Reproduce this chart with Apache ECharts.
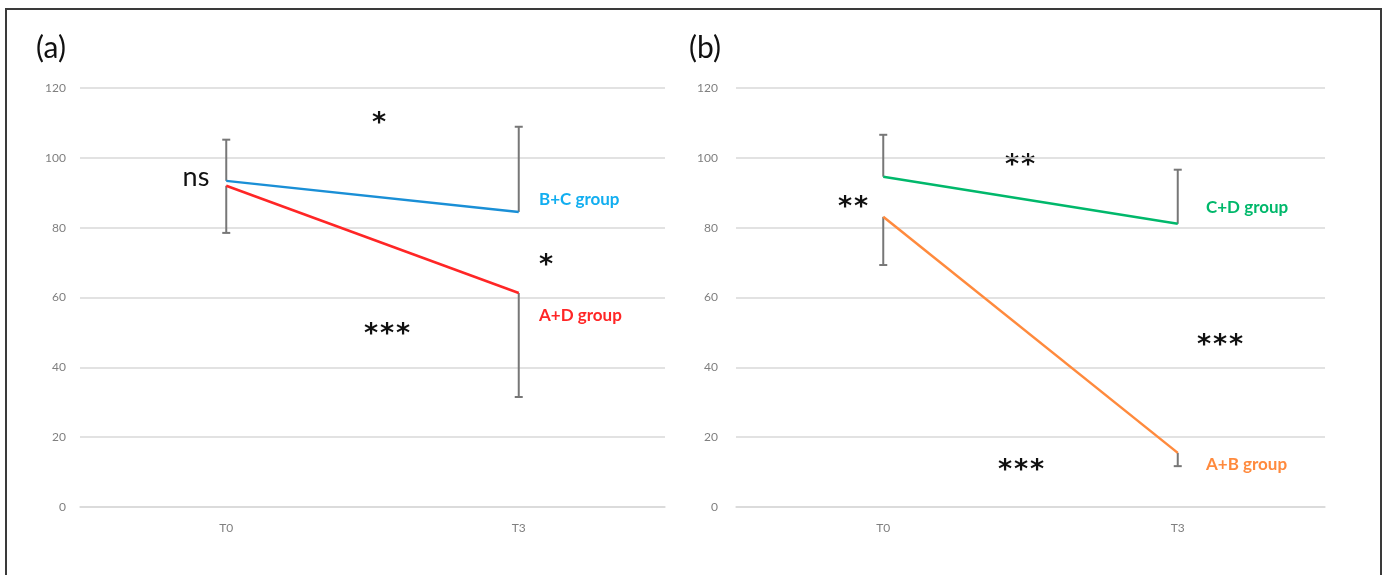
<!DOCTYPE html>
<html>
<head>
<meta charset="utf-8">
<script src="https://cdn.jsdelivr.net/npm/echarts@6/dist/echarts.min.js"></script>
<style>
html,body{margin:0;padding:0;background:#fff;}
#chart{width:1387px;height:575px;}
</style>
</head>
<body>
<div id="chart"></div>
<script>
// ---- data ----
const categories = ['T0', 'T3'];
const yTicks = [0, 20, 40, 60, 80, 100, 120];
// panel (a)
const bcMean = [93.4, 84.5];
const bcUpper = [105.2, 108.9];   // one-sided error bar ends (upwards)
const adMean = [92.0, 61.3];
const adLower = [78.5, 31.5];     // one-sided error bar ends (downwards)
// panel (b)
const cdMean = [94.6, 81.1];
const cdUpper = [106.6, 96.6];
const abMean = [83.1, 15.5];
const abLower = [69.3, 11.7];

const chart = echarts.init(document.getElementById('chart'), null, {renderer: 'canvas'});

const FONT = 'Lato';
const gridColor = '#d9d9d9';
const labelColor = '#7f7f7f';

function errData(mean, end) {
  return mean.map((m, i) => [i, m, end[i]]);
}

function errSeries(idx, mean, end) {
  return {
    type: 'custom',
    xAxisIndex: idx, yAxisIndex: idx,
    data: errData(mean, end),
    z: 1,
    renderItem: function (params, api) {
      const x = api.value(0);
      const p0 = api.coord([x, api.value(1)]);
      const p1 = api.coord([x, api.value(2)]);
      const cw = 4;
      const style = {stroke: '#777777', lineWidth: 2};
      return {
        type: 'group',
        children: [
          {type: 'line', shape: {x1: p0[0], y1: p0[1], x2: p1[0], y2: p1[1]}, style: style},
          {type: 'line', shape: {x1: p1[0] - cw, y1: p1[1], x2: p1[0] + cw, y2: p1[1]}, style: style}
        ]
      };
    }
  };
}

function lineSeries(idx, name, data, color) {
  return {
    type: 'line', name: name,
    xAxisIndex: idx, yAxisIndex: idx,
    data: data, symbol: 'none', z: 3,
    lineStyle: {color: color, width: 2.5}
  };
}

function xAx(idx) {
  return {
    type: 'category', gridIndex: idx, data: categories,
    boundaryGap: true,
    axisLine: {show: true, lineStyle: {color: gridColor, width: 1.5}},
    axisTick: {show: false},
    axisLabel: {color: labelColor, fontFamily: FONT, fontSize: 12, margin: 15}
  };
}
function yAx(idx, margin) {
  return {
    type: 'value', gridIndex: idx, min: yTicks[0], max: yTicks[yTicks.length - 1], interval: 20,
    axisLine: {show: false}, axisTick: {show: false},
    splitLine: {lineStyle: {color: gridColor, width: 1.5}},
    axisLabel: {color: labelColor, fontFamily: FONT, fontSize: 12, margin: margin}
  };
}

function txt(x, y, s, size, color, align, weight) {
  return {
    type: 'text', x: x, y: y, z: 10,
    style: {text: s, fontFamily: FONT, fontSize: size, fill: color,
      fontWeight: weight || 'normal',
      align: align || 'center', verticalAlign: 'middle'}
  };
}

// significance asterisks, n stars centred at (cx, cy)
function stars(cx, cy, n) {
  const pitch = 16;
  const children = [];
  for (let i = 0; i < n; i++) {
    children.push({
      type: 'text', x: cx + (i - (n - 1) / 2) * pitch, y: cy,
      style: {text: '*', fontFamily: 'DejaVu Sans', fontWeight: 'bold', fontSize: 27,
        fill: '#111', align: 'center', verticalAlign: 'middle'}
    });
  }
  return {type: 'group', z: 10, children: children};
}

const option = {
  backgroundColor: '#fff',
  animation: false,
  grid: [
    {left: 80, top: 88, width: 585, height: 419},
    {left: 736, top: 88, width: 589, height: 419}
  ],
  xAxis: [xAx(0), xAx(1)],
  yAxis: [yAx(0, 14), yAx(1, 18)],
  series: [
    errSeries(0, bcMean, bcUpper),
    errSeries(0, adMean, adLower),
    lineSeries(0, 'B+C group', bcMean, '#1a8fd6'),
    lineSeries(0, 'A+D group', adMean, '#ff2626'),
    errSeries(1, cdMean, cdUpper),
    errSeries(1, abMean, abLower),
    lineSeries(1, 'C+D group', cdMean, '#00b86b'),
    lineSeries(1, 'A+B group', abMean, '#ff8a3d')
  ],
  graphic: [
    {type: 'rect', shape: {x: 6, y: 9, width: 1375, height: 600}, z: 0,
      style: {fill: 'none', stroke: '#3a3a3a', lineWidth: 2}},
    txt(51, 48, '(a)', 30, '#111'),
    txt(705, 48, '(b)', 30, '#111'),
    txt(196, 177, 'ns', 27, '#111'),
    stars(379, 124, 1),
    stars(546, 266, 1),
    stars(387, 335, 3),
    txt(539, 200, 'B+C group', 17, '#12aef0', 'left', 'bold'),
    txt(539, 316, 'A+D group', 17, '#ff2626', 'left', 'bold'),
    stars(1020, 166, 2),
    stars(853, 208, 2),
    stars(1220, 346, 3),
    stars(1021, 471, 3),
    txt(1206, 208, 'C+D group', 17, '#00b86b', 'left', 'bold'),
    txt(1206, 465, 'A+B group', 17, '#ff8a3d', 'left', 'bold')
  ]
};
chart.setOption(option);
</script>
</body>
</html>
